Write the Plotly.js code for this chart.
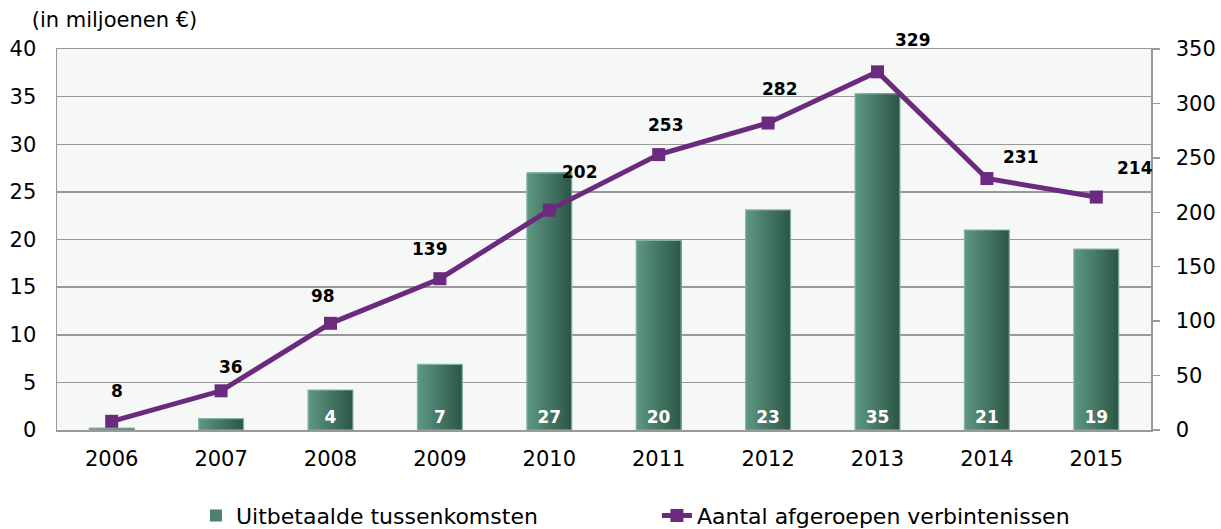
<!DOCTYPE html>
<html>
<head>
<meta charset="utf-8">
<script src="https://cdn.plot.ly/plotly-3.0.1.min.js"></script>
<style>html,body{margin:0;padding:0;background:#fff;}#chart{width:1221px;height:529px;}</style>
</head>
<body>
<div id="chart"></div>
<script>
// ---- data ----
const years = ['2006','2007','2008','2009','2010','2011','2012','2013','2014','2015'];
const payouts = [0.2, 1.2, 4.2, 6.9, 27.0, 19.9, 23.1, 35.3, 21.0, 19.0]; // miljoenen €
const commitments = [8, 36, 98, 139, 202, 253, 282, 329, 231, 214];
const seriesBar = 'Uitbetaalde tussenkomsten';
const seriesLine = 'Aantal afgeroepen verbintenissen';
const yTitle = '(in miljoenen €)';

// ---- styling ----
const FONT = 'DejaVu Sans, Verdana, sans-serif';
const barWidth = 0.41;
const nStripes = 16;
const cLeft = [92, 150, 129], cRight = [46, 88, 72];
const traces = [];
for (let k = 0; k < nStripes; k++) {
  const t = k / (nStripes - 1);
  const c = cLeft.map((a, j) => Math.round(a + (cRight[j] - a) * t));
  const w = barWidth / nStripes;
  traces.push({
    type: 'bar', x: years, y: payouts,
    width: barWidth - k * w, offset: -barWidth / 2 + k * w,
    marker: {color: `rgb(${c[0]},${c[1]},${c[2]})`, line: {width: 0}},
    name: seriesBar, showlegend: k === 5, legendgroup: 'bar',
    hoverinfo: 'skip'
  });
}
traces.push({
  type: 'bar', x: years, y: payouts,
  width: barWidth, offset: -barWidth / 2,
  marker: {color: 'rgba(0,0,0,0)', line: {color: '#86b3a4', width: 1.2}},
  text: payouts.map(v => v >= 3 ? String(Math.round(v)) : ''),
  textposition: 'inside', insidetextanchor: 'start',
  textfont: {family: FONT, size: 17, color: '#ffffff', weight: 'bold'},
  constraintext: 'none',
  showlegend: false, legendgroup: 'bar'
});
traces.push({
  type: 'scatter', mode: 'lines+markers', x: years, y: commitments, yaxis: 'y2',
  name: seriesLine,
  line: {color: '#6b2a7e', width: 5},
  marker: {symbol: 'square', size: 13, color: '#6b2a7e'}
});

const labelXShift = [5, 10, -8, -10, 31, 7, 12, 35, 34, 39];
const labelYShift = [30, 24, 27, 30, 38, 30, 34, 32, 22, 29];
const annotations = commitments.map((v, i) => ({
  x: i, y: v, xref: 'x', yref: 'y2', text: '<b>' + v + '</b>',
  showarrow: false, xshift: labelXShift[i], yshift: labelYShift[i],
  font: {family: FONT, size: 17, color: '#000'}
}));

const layout = {
  width: 1221, height: 529,
  margin: {l: 57, r: 70, t: 49, b: 99, autoexpand: false},
  paper_bgcolor: '#ffffff', plot_bgcolor: '#f6f7f7',
  font: {family: FONT, size: 21, color: '#000'},
  title: {text: yTitle, xref: 'container', yref: 'container', x: 0.026, xanchor: 'left',
          y: 0.962, yanchor: 'middle', font: {family: FONT, size: 21, color: '#000'}},
  barmode: 'overlay', bargap: 0.5,
  xaxis: {type: 'category', range: [-0.5, 9.5], showgrid: false, showline: true, linecolor: '#999', linewidth: 1.5,
          mirror: true, ticks: '', tickfont: {size: 21}, ticklabelstandoff: 9, fixedrange: true},
  yaxis: {range: [0, 40], dtick: 5, showgrid: true, gridcolor: '#999', gridwidth: 1.5,
          showline: true, linecolor: '#999', linewidth: 1.5, ticks: '', zeroline: false,
          tickfont: {size: 21}, ticklabelstandoff: 15},
  yaxis2: {range: [0, 350], dtick: 50, overlaying: 'y', side: 'right', showgrid: false,
           showline: true, linecolor: '#999', linewidth: 1.5, ticks: 'outside', ticklen: 7,
           tickcolor: '#999', tickwidth: 1.5, zeroline: false, tickfont: {size: 21},
           ticklabelstandoff: 12},
  legend: {orientation: 'h', x: 0.127, xanchor: 'left', y: -0.225, yanchor: 'middle',
           font: {family: FONT, size: 22}, entrywidth: 416, entrywidthmode: 'pixels',
           bgcolor: 'rgba(0,0,0,0)'},
  annotations: annotations,
  showlegend: true
};

Plotly.newPlot('chart', traces, layout, {staticPlot: true, displayModeBar: false});
</script>
</body>
</html>
